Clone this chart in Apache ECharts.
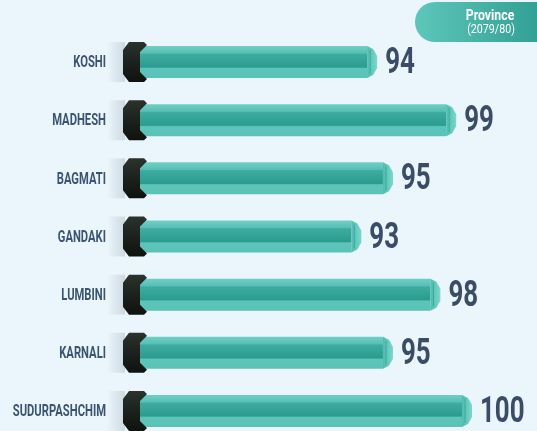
<!DOCTYPE html>
<html>
<head>
<meta charset="utf-8">
<script src="https://cdn.jsdelivr.net/npm/echarts@6/dist/echarts.min.js"></script>
<style>
  html, body { margin: 0; padding: 0; background: #eaf6fc; }
  #main { width: 537px; height: 431px; }
</style>
</head>
<body>
<div id="main"></div>
<script>
// province names and values
var provinces = ['KOSHI', 'MADHESH', 'BAGMATI', 'GANDAKI', 'LUMBINI', 'KARNALI', 'SUDURPASHCHIM'];
var values = [94, 99, 95, 93, 98, 95, 100];
var xMin = 79, xMax = 100;

var labelFont = 'Roboto, "DejaVu Sans", sans-serif';

var barGrad = new echarts.graphic.LinearGradient(0, 0, 0, 1, [
    { offset: 0, color: '#6fd0c5' },
    { offset: 0.22, color: '#58bfb4' },
    { offset: 0.26, color: '#3eaba0' },
    { offset: 0.66, color: '#2b9b90' },
    { offset: 0.70, color: '#5dc4b9' },
    { offset: 1, color: '#5ac2b7' }
]);

function renderItem(params, api) {
    var idx = api.value(1);
    var val = api.value(0);
    var s = api.coord([xMin, idx]);
    var e = api.coord([val, idx]);
    var cy = s[1];
    var h = 32;
    var top = cy - h / 2, bot = cy + h / 2;
    var x0 = s[0] - 6, x1 = e[0];
    var L = s[0] - 17, R = s[0] + 7;
    return {
        type: 'group',
        children: [
            {
                type: 'rect',
                shape: { x: L - 16, y: cy - 20, width: 18, height: 40 },
                style: {
                    fill: new echarts.graphic.LinearGradient(0, 0, 1, 0, [
                        { offset: 0, color: 'rgba(120,130,140,0)' },
                        { offset: 1, color: 'rgba(120,130,140,0.25)' }
                    ])
                }
            },
            {
                type: 'rect',
                shape: { x: x0, y: top, width: x1 - 10 - x0, height: h },
                style: { fill: barGrad }
            },
            {
                type: 'polygon',
                shape: { points: [[x1 - 10, top], [x1 - 4, top + 3], [x1, top + 10], [x1, bot - 10], [x1 - 4, bot - 3], [x1 - 10, bot]] },
                style: {
                    fill: new echarts.graphic.LinearGradient(0, 0, 1, 0, [
                        { offset: 0, color: '#4fbcb1' },
                        { offset: 1, color: '#7dd6cc' }
                    ])
                }
            },
            {
                type: 'line',
                shape: { x1: x1 - 7, y1: top + 4, x2: x1 - 7, y2: bot - 4 },
                style: { stroke: '#3aa79c', lineWidth: 1 }
            },
            {
                type: 'polygon',
                shape: { points: [[L + 6, cy - 20], [R - 3, cy - 20], [R, cy - 17], [R - 7, cy - 10], [R - 7, cy + 10], [R, cy + 17], [R - 3, cy + 20], [L + 6, cy + 20], [L, cy + 12], [L, cy - 12]] },
                style: {
                    fill: new echarts.graphic.LinearGradient(0, 0, 0, 1, [
                        { offset: 0, color: '#2c332d' },
                        { offset: 0.5, color: '#1b211c' },
                        { offset: 1, color: '#0f130f' }
                    ])
                }
            },
            // category name, squeezed to look condensed
            {
                type: 'text',
                x: s[0] - 34,
                y: cy + 1,
                scaleX: 0.66,
                style: {
                    text: provinces[idx],
                    fill: '#3d5470',
                    font: 'bold 17px ' + labelFont,
                    verticalAlign: 'middle',
                    align: 'right'
                }
            },
            {
                type: 'text',
                x: x1 + 8,
                y: cy + 2,
                scaleX: 0.72,
                style: {
                    text: String(val),
                    fill: '#3b4d66',
                    font: 'bold 36px ' + labelFont,
                    verticalAlign: 'middle',
                    align: 'left'
                }
            }
        ]
    };
}

var chart = echarts.init(document.getElementById('main'));
chart.setOption({
    backgroundColor: '#eaf6fc',
    animation: false,
    grid: { left: 140, right: 65, top: 33, bottom: -9, outerBoundsMode: 'none', containLabel: false },
    xAxis: { type: 'value', min: xMin, max: xMax, show: false },
    yAxis: {
        type: 'category',
        data: provinces,
        inverse: true,
        axisLine: { show: false },
        axisTick: { show: false },
        axisLabel: { show: false }
    },
    graphic: [
        {
            type: 'rect',
            shape: { x: 415, y: 2, width: 150, height: 40, r: 20 },
            style: {
                fill: new echarts.graphic.LinearGradient(0, 0, 1, 0, [
                    { offset: 0, color: '#5ec6ba' },
                    { offset: 1, color: '#29988d' }
                ])
            }
        },
        {
            type: 'text',
            x: 490, y: 16,
            scaleX: 0.88,
            style: { text: 'Province', fill: '#fff', font: 'bold 14px ' + labelFont, align: 'center', verticalAlign: 'middle' }
        },
        {
            type: 'text',
            x: 491, y: 30,
            scaleX: 0.82,
            style: { text: '(2079/80)', fill: '#fff', font: '13px ' + labelFont, align: 'center', verticalAlign: 'middle' }
        }
    ],
    series: [{
        type: 'custom',
        renderItem: renderItem,
        encode: { x: 0, y: 1 },
        data: values.map(function (v, i) { return [v, i]; })
    }]
});
</script>
</body>
</html>
